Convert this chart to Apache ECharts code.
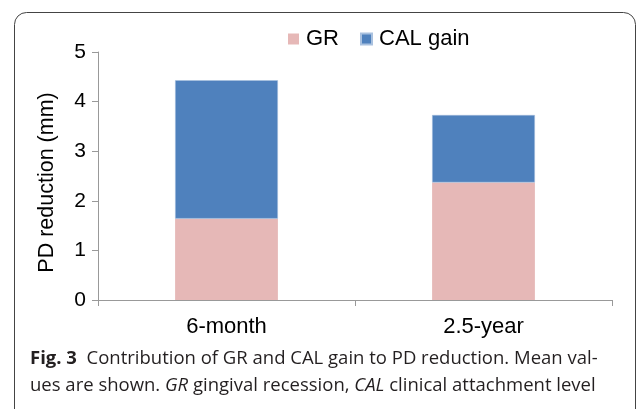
<!DOCTYPE html>
<html>
<head>
<meta charset="utf-8">
<script src="https://cdn.jsdelivr.net/npm/echarts@6/dist/echarts.min.js"></script>
<style>
html,body{margin:0;padding:0;background:#fff;}
#c{width:637px;height:409px;}
</style>
</head>
<body>
<div id="c"></div>
<script>
var categories = ['6-month', '2.5-year'];
var grValues = [1.64, 2.37];
var calGainValues = [2.79, 1.36];
var seriesNames = ['GR', 'CAL gain'];
var yAxisName = 'PD reduction (mm)';
var yMin = 0, yMax = 5, yInterval = 1;

var chart = echarts.init(document.getElementById('c'), null, {renderer: 'canvas'});
var font = 'Liberation Sans, Arial, sans-serif';
var capFont = 'Open Sans, sans-serif';
chart.setOption({
  animation: false,
  backgroundColor: '#fff',
  grid: {left: 98, right: 25, top: 52, bottom: 109, containLabel: false},
  legend: {
    data: seriesNames,
    left: 288, top: 28, padding: 0,
    icon: 'rect', itemWidth: 11, itemHeight: 11, itemGap: 21,
    textStyle: {fontFamily: font, fontSize: 22, color: '#000', padding: [0, 0, 0, 2]}
  },
  xAxis: {
    type: 'category',
    data: categories,
    axisLine: {lineStyle: {color: '#999', width: 1}},
    axisTick: {show: true, length: 6, lineStyle: {color: '#999'}},
    axisLabel: {fontFamily: font, fontSize: 22, color: '#000', margin: 16}
  },
  yAxis: {
    type: 'value',
    min: yMin, max: yMax, interval: yInterval,
    name: yAxisName,
    nameLocation: 'middle',
    nameGap: 40,
    nameTextStyle: {fontFamily: font, fontSize: 21.5, color: '#000', padding: [0, 13, 0, 0]},
    axisLine: {show: true, lineStyle: {color: '#999', width: 1}},
    axisTick: {show: true, length: 6, lineStyle: {color: '#999'}},
    splitLine: {show: false},
    axisLabel: {fontFamily: font, fontSize: 21, color: '#000', margin: 12}
  },
  series: [
    {name: seriesNames[0], type: 'bar', stack: 'pd', data: grValues, barWidth: '40%',
     itemStyle: {color: '#e6b8b7'}},
    {name: seriesNames[1], type: 'bar', stack: 'pd', data: calGainValues, barWidth: '40%',
     itemStyle: {color: '#4f81bd', borderColor: '#a9c1df', borderWidth: 0.5}}
  ],
  graphic: [
    {type: 'rect', shape: {x: 14.5, y: 12.5, width: 621, height: 430, r: 12},
     style: {fill: null, stroke: '#444', lineWidth: 1}, silent: true},
    {type: 'text', left: 30, top: 345,
     style: {
       text: '{b|Fig. 3}  Contribution of GR and CAL gain to PD reduction. Mean val-\nues are shown. {i|GR} gingival recession, {i|CAL} clinical attachment level',
       font: '18.5px ' + capFont,
       fill: '#231f20',
       lineHeight: 27,
       rich: {
         b: {fontFamily: capFont, fontSize: 18.5, fontWeight: 'bold', fill: '#231f20', lineHeight: 27},
         i: {fontFamily: capFont, fontSize: 18.5, fontStyle: 'italic', fill: '#231f20', lineHeight: 27}
       }
     }}
  ]
});
</script>
</body>
</html>
